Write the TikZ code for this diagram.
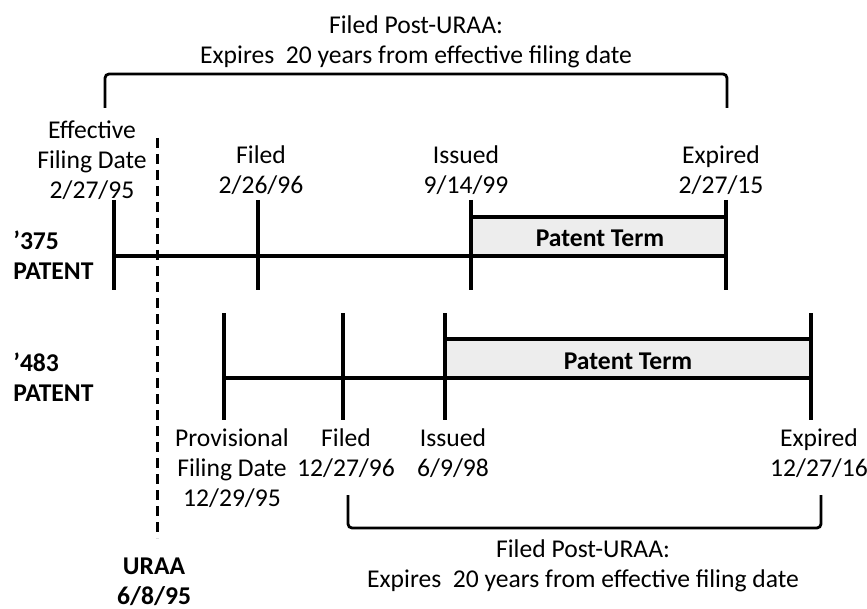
\documentclass[tikz,border=0pt]{standalone}
\usepackage{fontspec}
\setmainfont{Carlito}
\begin{document}
\begin{tikzpicture}[x=0.5pt,y=-0.5pt,
  lbl/.style={font=\fontsize{12.8}{15}\selectfont, align=center, inner sep=0pt},
  bl/.style={font=\fontsize{12.8}{15}\selectfont\bfseries, align=left, inner sep=0pt},
  tickline/.style={line width=1.8pt},
  axisline/.style={line width=2.2pt},
  brk/.style={line width=1.4pt, rounded corners=2pt},
  termbox/.style={fill=gray!14},
  termtop/.style={line width=1.6pt},
  uraa/.style={line width=1.5pt, dash pattern=on 5pt off 3pt}]
\useasboundingbox (0,0) rectangle (867,609);

% ---------- '375 patent ----------
\coordinate (t1a) at (114,200); \coordinate (t1b) at (114,290);
\coordinate (t2a) at (258,200); \coordinate (t2b) at (258,290);
\coordinate (t3a) at (471,200); \coordinate (t3b) at (471,290);
\coordinate (t4a) at (726,200); \coordinate (t4b) at (726,290);
\coordinate (h1l) at (114,256); \coordinate (h1r) at (726,256);
\coordinate (b1l) at (471,217); \coordinate (b1r) at (726,217);

\fill[termbox] (b1l) rectangle (h1r);
\draw[termtop] (b1l) -- (b1r);
\draw[axisline] (h1l) -- (h1r);
\foreach \i in {1,2,3,4} \draw[tickline] (t\i a) -- (t\i b);
\node[font=\fontsize{12.8}{15}\selectfont\bfseries, inner sep=0pt] (pt1) at (600,238) {Patent Term};

\node[bl, anchor=west] (p375) at (13,255) {’375\\PATENT};
\node[lbl] (eff) at (92,160) {Effective\\Filing Date\\2/27/95};
\node[lbl] (f1) at (261,170) {Filed\\2/26/96};
\node[lbl] (i1) at (466,170) {Issued\\9/14/99};
\node[lbl] (e1) at (721,170) {Expired\\2/27/15};

% top bracket
\coordinate (tb1) at (105,108); \coordinate (tb2) at (105,74);
\coordinate (tb3) at (727,74); \coordinate (tb4) at (727,108);
\draw[brk] (tb1) -- (tb2) -- (tb3) -- (tb4);
\node[lbl] (toptext) at (416,42) {Filed Post-URAA:\\Expires\ \ 20 years from effective filing date};

% ---------- '483 patent ----------
\coordinate (u1a) at (224,313); \coordinate (u1b) at (224,420);
\coordinate (u2a) at (343,313); \coordinate (u2b) at (343,420);
\coordinate (u3a) at (445,313); \coordinate (u3b) at (445,420);
\coordinate (u4a) at (811,313); \coordinate (u4b) at (811,420);
\coordinate (h2l) at (224,378); \coordinate (h2r) at (811,378);
\coordinate (b2l) at (445,339); \coordinate (b2r) at (811,339);

\fill[termbox] (b2l) rectangle (h2r);
\draw[termtop] (b2l) -- (b2r);
\draw[axisline] (h2l) -- (h2r);
\foreach \i in {1,2,3,4} \draw[tickline] (u\i a) -- (u\i b);
\node[font=\fontsize{12.8}{15}\selectfont\bfseries, inner sep=0pt] (pt2) at (628,361) {Patent Term};

\node[bl, anchor=west] (p483) at (13,377) {’483\\PATENT};
\node[lbl] (prov) at (232,468) {Provisional\\Filing Date\\12/29/95};
\node[lbl] (f2) at (346,453) {Filed\\12/27/96};
\node[lbl] (i2) at (453,453) {Issued\\6/9/98};
\node[lbl] (e2) at (819,453) {Expired\\12/27/16};

% bottom bracket
\coordinate (bb1) at (348,495); \coordinate (bb2) at (348,528);
\coordinate (bb3) at (821,528); \coordinate (bb4) at (821,495);
\draw[brk] (bb1) -- (bb2) -- (bb3) -- (bb4);
\node[lbl] (bottext) at (583,566) {Filed Post-URAA:\\Expires\ \ 20 years from effective filing date};

% URAA line
\coordinate (ua) at (157,138); \coordinate (ub) at (157,538);
\draw[uraa] (ua) -- (ub);
\node[lbl, font=\fontsize{12.8}{15}\selectfont\bfseries] (uraa) at (154,582) {URAA\\6/8/95};
\end{tikzpicture}
\end{document}
